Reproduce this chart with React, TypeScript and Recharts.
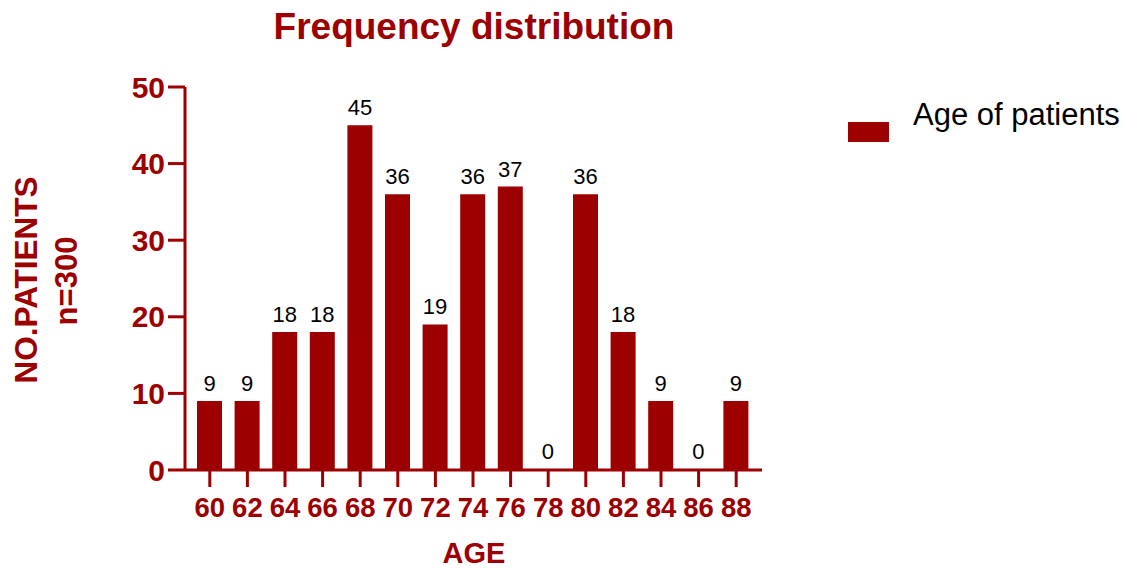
import React from 'react';
import { BarChart, Bar, XAxis, YAxis, Legend, LabelList, Label } from 'recharts';

// Age groups and patient counts
const ages = ['60', '62', '64', '66', '68', '70', '72', '74', '76', '78', '80', '82', '84', '86', '88'];
const patientCounts = [9, 9, 18, 18, 45, 36, 19, 36, 37, 0, 36, 18, 9, 0, 9];
const yTicks = [0, 10, 20, 30, 40, 50];
const seriesName = 'Age of patients';

const RED = '#9c0000';
const FONT = '"Liberation Sans", Arial, Helvetica, sans-serif';

const chartData = ages.map((age, i) => ({ age, count: patientCounts[i] }));

const LegendBox = () => (
  <div style={{ position: 'relative', width: 279, height: 50, fontFamily: FONT }}>
    <div
      style={{ position: 'absolute', left: 0, top: 27, width: 41, height: 20, background: RED }}
    />
    <div
      style={{
        position: 'absolute',
        left: 65,
        top: 4,
        fontSize: 31,
        lineHeight: '31px',
        color: '#000',
        whiteSpace: 'nowrap',
      }}
    >
      {seriesName}
    </div>
  </div>
);

const YTitle = () => (
  <g>
    <text
      x={37}
      y={280}
      transform="rotate(-90, 37, 280)"
      textAnchor="middle"
      fill={RED}
      fontSize={31.5}
      fontWeight="bold"
      fontFamily={FONT}
    >
      NO.PATIENTS
    </text>
    <text
      x={77}
      y={281}
      transform="rotate(-90, 77, 281)"
      textAnchor="middle"
      fill={RED}
      fontSize={31}
      fontWeight="bold"
      fontFamily={FONT}
    >
      n=300
    </text>
  </g>
);

const XTitle = () => (
  <text
    x={474}
    y={563}
    textAnchor="middle"
    fill={RED}
    fontSize={29}
    fontWeight="bold"
    fontFamily={FONT}
  >
    AGE
  </text>
);

export default function App() {
  return (
    <div style={{ position: 'absolute', left: 0, top: 0, width: 1127, height: 571, background: '#fff' }}>
      <div
        style={{
          position: 'absolute',
          left: 0,
          width: 948,
          top: 8,
          textAlign: 'center',
          fontFamily: FONT,
          fontWeight: 'bold',
          fontSize: 37,
          lineHeight: '37px',
          color: RED,
        }}
      >
        Frequency distribution
      </div>
      <BarChart
        width={1127}
        height={571}
        data={chartData}
        margin={{ top: 87, right: 365, bottom: 0, left: 0 }}
      >
        <XAxis
          dataKey="age"
          height={101}
          padding={{ left: 6, right: 7 }}
          axisLine={{ stroke: RED, strokeWidth: 3 }}
          tickLine={{ stroke: RED, strokeWidth: 3 }}
          tickSize={17}
          tickMargin={10}
          interval={0}
          tick={{ fill: RED, fontSize: 27.5, fontWeight: 'bold', fontFamily: FONT }}
        >
          <Label content={<XTitle />} />
        </XAxis>
        <YAxis
          width={185}
          domain={[0, 50]}
          ticks={yTicks}
          interval={0}
          axisLine={{ stroke: RED, strokeWidth: 3 }}
          tickLine={{ stroke: RED, strokeWidth: 3 }}
          tickSize={17}
          tickMargin={3}
          tick={{ fill: RED, fontSize: 30, fontWeight: 'bold', fontFamily: FONT }}
        >
          <Label content={<YTitle />} />
        </YAxis>
        <Legend
          layout="vertical"
          align="center"
          verticalAlign="middle"
          width={279}
          wrapperStyle={{ left: 848, top: 95 }}
          content={<LegendBox />}
        />
        <Bar
          dataKey="count"
          name={seriesName}
          fill={RED}
          barSize={25}
          minPointSize={1}
          isAnimationActive={false}
        >
          <LabelList
            dataKey="count"
            position="top"
            offset={10}
            fill="#000"
            fontSize={22}
            fontFamily={FONT}
          />
        </Bar>
      </BarChart>
    </div>
  );
}
